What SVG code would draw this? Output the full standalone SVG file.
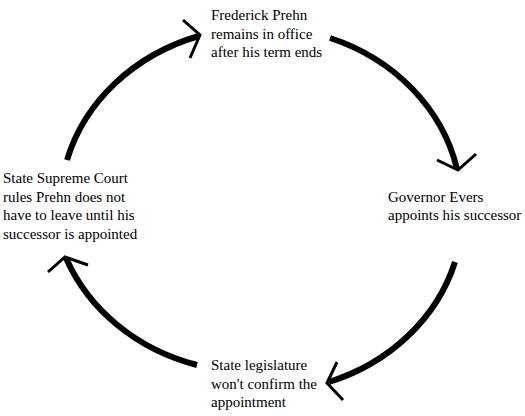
<svg xmlns="http://www.w3.org/2000/svg" width="525" height="416" viewBox="0 0 525 416">
<style>
text{font-family:"Liberation Serif","Times New Roman",serif;font-size:15px;fill:#000}
.arc{fill:none;stroke:#000;stroke-width:6;stroke-linecap:butt}
.head{fill:none;stroke:#000;stroke-width:3;stroke-linecap:butt;stroke-linejoin:miter}
</style>
<rect width="525" height="416" fill="#fff"/>
<g id="node-prehn">
<text x="211" y="20">Frederick Prehn</text>
<text x="211" y="38.5">remains in office</text>
<text x="211" y="57">after his term ends</text>
</g>
<g id="node-evers">
<text x="388" y="202">Governor Evers</text>
<text x="388" y="220">appoints his successor</text>
</g>
<g id="node-legislature">
<text x="211" y="370">State legislature</text>
<text x="211" y="388.5">won't confirm the</text>
<text x="211" y="407">appointment</text>
</g>
<g id="node-court">
<text x="3" y="183">State Supreme Court</text>
<text x="3" y="201.5">rules Prehn does not</text>
<text x="3" y="220">have to leave until his</text>
<text x="3" y="238.5">successor is appointed</text>
</g>
<g id="connectors">
<path class="arc" d="M67,160 A200,180 0 0 1 199,36"/>
<polyline class="head" points="183,20 200,35 190,58"/>
<path class="arc" d="M330,38 A200,180 0 0 1 457,169"/>
<polyline class="head" points="437,160 458,170 476,154"/>
<path class="arc" d="M455,262 A200,180 0 0 1 329,382"/>
<polyline class="head" points="337,362 327,383 343,400"/>
<path class="arc" d="M197,365 A200,180 0 0 1 66,258"/>
<polyline class="head" points="48,272 65,257 88,265"/>
</g>
</svg>
